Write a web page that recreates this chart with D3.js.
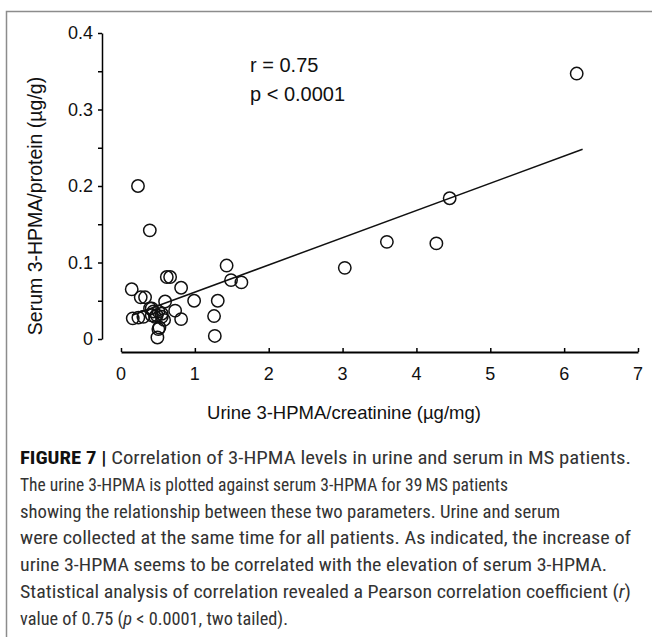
<!doctype html>
<html>
<head>
<meta charset="utf-8">
<title>Figure 7</title>
<style>
*{margin:0;padding:0;}
body{background:white;}
svg text{font-family:"Liberation Sans",Arial,sans-serif;fill:#111;}
.cap{font-family:"Liberation Sans Narrow","Roboto Condensed","Arial Narrow","Liberation Sans",sans-serif;font-size:18px;fill:#333;}
</style>
</head>
<body>
<script src="https://cdn.jsdelivr.net/npm/d3@7"></script>
<script>
// data
var urine = [0.145,0.267,0.326,0.416,0.416,0.159,0.235,0.303,0.484,0.552,
             0.597,0.62,0.665,0.814,0.733,0.814,0.52,0.506,0.493,0.99,
             1.31,1.26,1.27,1.43,1.49,1.63,
             0.23,0.39,3.03,3.6,4.27,4.45,6.17,
             0.393,0.461,0.506,0.552,0.583,0.439];
var serum = [0.065,0.0545,0.0545,0.040,0.031,0.027,0.028,0.029,0.031,0.029,
             0.049,0.081,0.081,0.067,0.037,0.026,0.015,0.013,0.002,0.050,
             0.050,0.030,0.004,0.096,0.077,0.074,
             0.200,0.142,0.093,0.127,0.125,0.184,0.347,
             0.040,0.029,0.036,0.033,0.025,0.036];
var fitLine = [[0.15,0.031],[6.25,0.248]];
var xTicks = [0,1,2,3,4,5,6,7];
var yTicks = [0,0.1,0.2,0.3,0.4];
var yMinor = [0.05,0.15,0.25,0.35];
var stats = ["r = 0.75","p < 0.0001"];

var svg = d3.select("body").append("svg").attr("width",652).attr("height",637);

// frame
svg.append("path").attr("d","M6.5,700V11.5H700")
   .attr("fill","none").attr("stroke","#8c8c8c").attr("stroke-width",1.5);

var x = d3.scaleLinear().domain([0,7]).range([121,638]);
var y = d3.scaleLinear().domain([0,0.4]).range([339,33]);

// x axis
var gx = svg.append("g").attr("transform","translate(0,352)")
   .call(d3.axisTop(x).tickValues(xTicks).tickSize(4).tickSizeOuter(0).tickFormat(""));
gx.select(".domain").attr("stroke-width",2);
gx.selectAll(".tick line").attr("stroke-width",1.5);
svg.selectAll(".xl").data(xTicks).enter().append("text")
   .attr("x",function(d){return x(d);}).attr("y",380)
   .attr("text-anchor","middle").attr("font-size","18px").text(function(d){return d;});

// y axis
var gy = svg.append("g").attr("transform","translate(102,0)")
   .call(d3.axisLeft(y).tickValues(yTicks.concat(yMinor)).tickSize(4).tickSizeOuter(0).tickFormat(""));
gy.select(".domain").attr("stroke-width",1.5);
gy.selectAll(".tick line").attr("stroke-width",1.5);
svg.selectAll(".yl").data(yTicks).enter().append("text")
   .attr("x",93).attr("y",function(d){return y(d)+6;})
   .attr("text-anchor","end").attr("font-size","18px").text(function(d){return d;});

// axis titles
svg.append("text").attr("transform","translate(42,206) rotate(-90)")
   .attr("text-anchor","middle").attr("font-size","19.5px").text("Serum 3-HPMA/protein (µg/g)");
svg.append("text").attr("x",344).attr("y",419)
   .attr("text-anchor","middle").attr("font-size","18.5px").text("Urine 3-HPMA/creatinine (µg/mg)");

// regression line
svg.append("path").datum(fitLine)
   .attr("d",d3.line().x(function(d){return x(d[0]);}).y(function(d){return y(d[1]);}))
   .attr("stroke","#111").attr("stroke-width",1.5).attr("fill","none");

// points
svg.selectAll("circle").data(urine).enter().append("circle")
   .attr("cx",function(d){return x(d);})
   .attr("cy",function(d,i){return y(serum[i]);})
   .attr("r",6.2).attr("fill","none").attr("stroke","#111").attr("stroke-width",1.5);

// r and p
svg.selectAll(".st").data(stats).enter().append("text")
   .attr("x",250).attr("y",function(d,i){return 72+i*29;})
   .attr("font-size","20px").text(function(d){return d;});

// caption
var cap = [
  {b:"FIGURE 7 | ",t:"Correlation of 3-HPMA levels in urine and serum in MS patients.",w:611},
  {t:"The urine 3-HPMA is plotted against serum 3-HPMA for 39\u2009MS patients",w:488},
  {t:"showing the relationship between these two parameters. Urine and serum",w:540},
  {t:"were collected at the same time for all patients. As indicated, the increase of",w:611},
  {t:"urine 3-HPMA seems to be correlated with the elevation of serum 3-HPMA.",w:587},
  {t:"Statistical analysis of correlation revealed a Pearson correlation coefficient (",i:"r",e:")",w:611},
  {t:"value of 0.75 (",i:"p",e:" < 0.0001, two tailed).",w:268}
];
cap.forEach(function(c,k){
  var t = svg.append("text").attr("class","cap").attr("x",20).attr("y",464+k*26.8)
     .attr("textLength",c.w).attr("lengthAdjust","spacingAndGlyphs");
  if(c.b) t.append("tspan").attr("font-weight","bold").attr("fill","#111").text(c.b);
  t.append("tspan").text(c.t);
  if(c.i){
    t.append("tspan").attr("font-style","italic").text(c.i);
    t.append("tspan").text(c.e);
  }
});
</script>
</body>
</html>
